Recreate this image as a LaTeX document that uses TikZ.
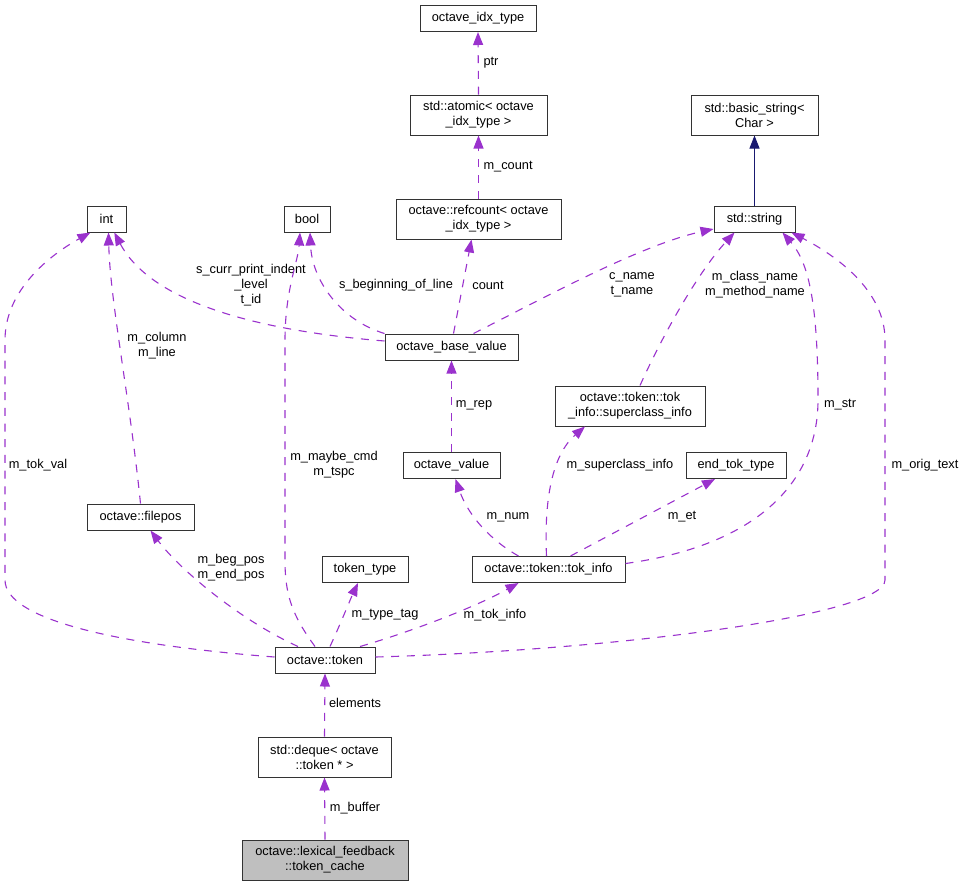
\documentclass[tikz,border=0pt]{standalone}
\usepackage{fontspec}
\setmainfont{Liberation Sans}
\usetikzlibrary{arrows.meta}
\definecolor{relcol}{HTML}{9A32CD}
\definecolor{inhcol}{HTML}{191970}
\begin{document}
\begin{tikzpicture}[x=1pt,y=-1pt]
\tikzstyle{every node}+=[font=\fontsize{12.8}{15}\selectfont]
\tikzstyle{cls}=[draw=black!80,line width=1pt,inner sep=0pt,minimum height=26pt,align=center]
\tikzstyle{cls2}=[cls,minimum height=40pt]
\tikzstyle{rel}=[draw=relcol,line width=1.1pt,dash pattern=on 8pt off 7.7pt,-{Triangle[width=10pt,length=13pt,fill=relcol]}]
\tikzstyle{inh}=[draw=inhcol,line width=1pt,-{Triangle[width=10pt,length=13pt,fill=inhcol]}]
\tikzstyle{lbl}=[inner sep=0pt,align=center]
\useasboundingbox (0,0) rectangle (965,887);
\node[cls,minimum width=116pt] (idx) at (478,18.5) {octave\_idx\_type};
\node[cls2,minimum width=137pt] (atomic) at (478.5,115) {std::atomic< octave\\\_idx\_type >};
\node[cls2,minimum width=127pt] (bs) at (754.5,115) {std::basic\_string<\\Char >};
\node[cls,minimum width=39pt] (int) at (106.5,219) {int};
\node[cls,minimum width=46pt] (bool) at (307,219) {bool};
\node[cls2,minimum width=165pt] (rc) at (478.5,219) {octave::refcount< octave\\\_idx\_type >};
\node[cls,minimum width=81pt] (ss) at (754.5,219) {std::string};
\node[cls,minimum width=133pt] (bv) at (451.5,347) {octave\_base\_value};
\node[cls2,minimum width=150pt] (sc) at (630,406) {octave::token::tok\\\_info::superclass\_info};
\node[cls,minimum width=97pt] (ov) at (451.5,465.5) {octave\_value};
\node[cls,minimum width=100pt] (et) at (736,465.5) {end\_tok\_type};
\node[cls,minimum width=107pt] (fp) at (140.5,517) {octave::filepos};
\node[cls,minimum width=86pt] (tt) at (365,569.5) {token\_type};
\node[cls,minimum width=153pt] (ti) at (548.5,569.5) {octave::token::tok\_info};
\node[cls,minimum width=100pt] (tok) at (325,660) {octave::token};
\node[cls2,minimum width=133pt] (deque) at (324.5,757) {std::deque< octave\\::token * >};
\node[cls2,minimum width=166pt,fill={rgb,255:red,191;green,191;blue,191}] (cache) at (325,860) {octave::lexical\_feedback\\::token\_cache};
\draw[rel] (atomic.north) -- (idx.south) node[lbl,anchor=west] at (483,63) {ptr};
\draw[rel] (rc.north) -- (atomic.south) node[lbl,anchor=west] at (483,167) {m\_count};
\draw[inh] (ss.north) -- (bs.south);
\draw[rel] ([yshift=6pt]bv.west) .. controls (250,330) and (150,300) .. (int.-60) node[lbl] at (251,285) {s\_curr\_print\_indent\\\_level\\t\_id};
\draw[rel] (bv.north west) .. controls (340,320) and (312,280) .. ([xshift=3pt]bool.south) node[lbl] at (396,285) {s\_beginning\_of\_line};
\draw[rel] ([xshift=2pt]bv.north) -- ([xshift=-7pt]rc.south) node[lbl] at (488,285) {count};
\draw[rel] ([xshift=22pt]bv.north) .. controls (540,300) and (640,245) .. ([yshift=-10pt]ss.west) node[lbl] at (632,285) {c\_name\\t\_name};
\draw[rel] ([xshift=10pt]sc.north) .. controls (665,330) and (700,270) .. ([xshift=-20pt]ss.south) node[lbl] at (755,285) {m\_class\_name\\m\_method\_name};
\draw[rel] ([yshift=6pt]ti.east) .. controls (760,545) and (818,480) .. (818,400) .. controls (818,300) and (808,262) .. ([xshift=-13pt]ss.south east) node[lbl] at (840,405) {m\_str};
\draw[rel] ([yshift=3pt]tok.east) .. controls (620,650) and (885,615) .. (885,580) -- (885,340) .. controls (885,290) and (835,255) .. ([xshift=-4pt]ss.south east) node[lbl] at (925,465) {m\_orig\_text};
\draw[rel] ([yshift=3pt]tok.west) .. controls (120,645) and (5,620) .. (5,580) -- (5,340) .. controls (5,290) and (50,255) .. (int.-140) node[lbl] at (38,465) {m\_tok\_val};
\draw[rel] (fp.north) .. controls (130,400) and (110,300) .. ([xshift=2pt]int.south) node[lbl] at (157,346) {m\_column\\m\_line};
\draw[rel] ([xshift=-27pt]tok.north) .. controls (240,620) and (180,570) .. ([xshift=10pt]fp.south) node[lbl] at (231,568) {m\_beg\_pos\\m\_end\_pos};
\draw[rel] ([xshift=-10pt]tok.north) .. controls (292,615) and (285,595) .. (285,560) -- (285,340) .. controls (285,290) and (298,262) .. ([xshift=-7pt]bool.south) node[lbl] at (334,465) {m\_maybe\_cmd\\m\_tspc};
\draw[rel] ([xshift=5pt]tok.north) .. controls (340,625) and (350,600) .. ([xshift=-7pt]tt.south) node[lbl] at (385,615) {m\_type\_tag};
\draw[rel] ([xshift=35pt]tok.north) .. controls (400,635) and (470,610) .. ([xshift=-30pt]ti.south) node[lbl] at (495,615) {m\_tok\_info};
\draw[rel] ([xshift=-30pt]ti.north) .. controls (490,540) and (468,515) .. ([xshift=4pt]ov.south) node[lbl] at (508,517) {m\_num};
\draw[rel] ([xshift=-2pt]ti.north) .. controls (544,500) and (552,455) .. ([xshift=-45pt]sc.south) node[lbl] at (620,465) {m\_superclass\_info};
\draw[rel] ([xshift=22pt]ti.north) -- ([xshift=-21pt]et.south) node[lbl] at (682,517) {m\_et};
\draw[rel] (ov.north) -- (bv.south) node[lbl] at (474,405) {m\_rep};
\draw[rel] (deque.north) -- (tok.south) node[lbl] at (355,703) {elements};
\draw[rel] (cache.north) -- (deque.south) node[lbl] at (355,808) {m\_buffer};
\end{tikzpicture}
\end{document}
